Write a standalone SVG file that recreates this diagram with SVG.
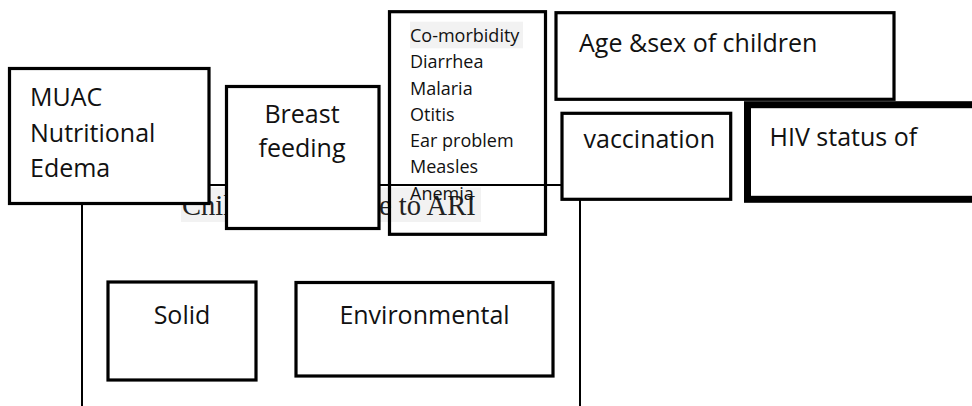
<svg xmlns="http://www.w3.org/2000/svg" width="972" height="406" viewBox="0 0 972 406">
<style>
.box{fill:#fff;stroke:#000;stroke-width:3.2}
.open{fill:none;stroke:#000;stroke-width:3.2}
.thick{fill:#fff;stroke:#000;stroke-width:7}
.conn{fill:none;stroke:#000;stroke-width:2}
.t{font-family:"Open Sans","Liberation Sans",sans-serif;font-size:25px;fill:#111}
.s{font-family:"Open Sans","Liberation Sans",sans-serif;font-size:18px;fill:#111}
.serif{font-family:"Liberation Serif","Times New Roman",serif;font-size:28.5px;fill:#222}
.m{text-anchor:middle}
</style>
<rect width="972" height="406" fill="#fff"/>
<g id="connectors">
<path class="conn" d="M82,406 V185 H580 V406"/>
</g>
<g id="children-exposure">
<rect x="181" y="187.5" width="300" height="34.5" fill="#f2f2f2"/>
<text class="serif" x="182" y="215">Children exposure to ARI</text>
</g>
<g id="muac">
<rect class="box" x="9.5" y="68.5" width="199.5" height="135"/>
<text class="t" x="30" y="106">MUAC</text>
<text class="t" x="30" y="142">Nutritional</text>
<text class="t" x="30" y="177">Edema</text>
</g>
<g id="breast-feeding">
<rect class="box" x="226.5" y="86.5" width="152.5" height="142"/>
<text class="t m" x="302" y="123">Breast</text>
<text class="t m" x="302" y="157">feeding</text>
</g>
<g id="co-morbidity">
<rect x="410" y="21.7" width="113" height="26.6" fill="#f2f2f2"/>
<rect class="open" x="389.5" y="11.7" width="156" height="222.6"/>
<text class="s" x="410" y="41.7">Co-morbidity</text>
<text class="s" x="410" y="68.3">Diarrhea</text>
<text class="s" x="410" y="94.5">Malaria</text>
<text class="s" x="410" y="120.7">Otitis</text>
<text class="s" x="410" y="146.8">Ear problem</text>
<text class="s" x="410" y="173.3">Measles</text>
<text class="s" x="410" y="199.6">Anemia</text>
</g>
<g id="age-sex">
<rect class="box" x="556" y="12.7" width="338" height="86.6"/>
<text class="t" x="579" y="51.7">Age &amp;sex of children</text>
</g>
<g id="vaccination">
<rect class="box" x="562" y="113.3" width="168.7" height="86"/>
<text class="t" x="583.5" y="148.3">vaccination</text>
</g>
<g id="hiv-status">
<rect class="thick" x="747.5" y="104.7" width="240" height="94.6"/>
<text class="t" x="769.5" y="145.7">HIV status of</text>
</g>
<g id="solid">
<rect class="box" x="108" y="282" width="148" height="98"/>
<text class="t m" x="182" y="323.6">Solid</text>
</g>
<g id="environmental">
<rect class="box" x="296" y="282.5" width="257" height="93.5"/>
<text class="t m" x="424.5" y="323.6">Environmental</text>
</g>
</svg>
